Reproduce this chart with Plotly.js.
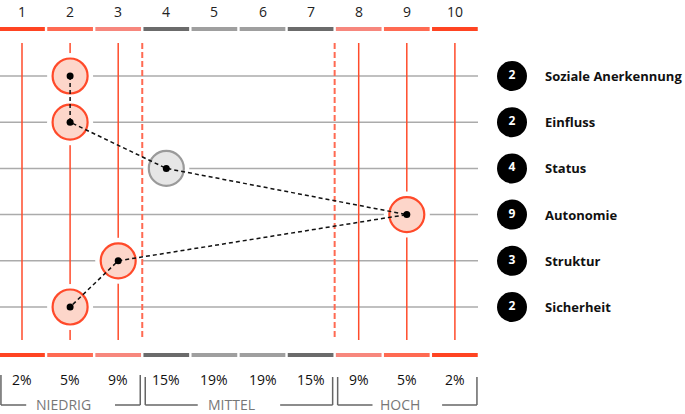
<!DOCTYPE html>
<html>
<head>
    <meta charset="utf-8">
    <script src="https://cdn.plot.ly/plotly-3.0.1.min.js"></script>
    <style>
        body { margin: 0; background: #fff; }
        #chart { width: 685px; height: 414px; }
    </style>
</head>
<body>
    <div id="chart"></div>
    <script>
        // Daten
        var kriterien = ['Soziale Anerkennung', 'Einfluss', 'Status', 'Autonomie', 'Struktur', 'Sicherheit'];
        var werte = [2, 2, 4, 9, 3, 2];
        var stufen = [1, 2, 3, 4, 5, 6, 7, 8, 9, 10];
        var anteile = ['2%', '5%', '9%', '15%', '19%', '19%', '15%', '9%', '5%', '2%'];
        var gruppen = ['NIEDRIG', 'MITTEL', 'HOCH'];
        var gruppeVon = [1, 4, 8];
        var gruppeBis = [3, 7, 10];

        // Farben
        var bandFarben = ['#ff4422', '#ff6a52', '#f7877d', '#6b6b6b', '#9f9f9f',
                          '#9f9f9f', '#6b6b6b', '#f7877d', '#ff6a52', '#ff4422'];
        var rot = '#ff4b2b';
        var font = 'Open Sans, Noto Sans, sans-serif';

        // Pixel -> Achsenwerte (Plot ohne Rand, 685x414)
        var dx = 48.1, dy = 46.2;
        function X(px) { return 1 + (px - 22) / dx; }
        function Y(py) { return (py - 76) / dy; }

        var zeilen = kriterien.map(function (k, i) { return i; });
        function istMittel(v) { return v >= gruppeVon[1] && v <= gruppeBis[1]; }

        var shapes = [];
        var annotations = [];

        // graue Zeilenlinien
        zeilen.forEach(function (i) {
            shapes.push({type: 'line', layer: 'below', x0: X(0), x1: X(478), y0: i, y1: i,
                         line: {color: '#ababab', width: 1.5}});
        });

        // Stufen: Farbbänder oben/unten, rote Senkrechten, Beschriftung
        stufen.forEach(function (s, i) {
            if (!istMittel(s)) {
                shapes.push({type: 'line', layer: 'below', x0: s, x1: s, y0: Y(43), y1: Y(340),
                             line: {color: rot, width: 1.5}});
            }
            [Y(29), Y(355)].forEach(function (yy) {
                shapes.push({type: 'line', x0: s - 0.5 + 0.025, x1: s + 0.5 - 0.025, y0: yy, y1: yy,
                             line: {color: bandFarben[i], width: 4}});
            });
            annotations.push({x: s, y: Y(11), text: String(s), showarrow: false,
                              font: {family: font, size: 14, color: '#222'}});
            annotations.push({x: s, y: Y(379), text: anteile[i], showarrow: false,
                              font: {family: font, size: 14, color: '#111'}});
        });

        // gestrichelte Gruppengrenzen
        [gruppeBis[0] + 0.5, gruppeBis[1] + 0.5].forEach(function (gx) {
            shapes.push({type: 'line', layer: 'below', x0: gx, x1: gx, y0: Y(43), y1: Y(340),
                         line: {color: '#ff6a52', width: 2, dash: '6px,3px'}});
        });

        // Klammern unten
        var kl = {color: '#666', width: 1.5};
        gruppen.forEach(function (g, i) {
            var a = gruppeVon[i] - 0.5 + 3 / dx;
            var b = gruppeBis[i] + 0.5 - 2 / dx;
            var mitte = (a + b) / 2;
            var luecke = (3.2 * g.length + 22) / dx;
            var oben = Y(i === 0 ? 375 : 377), unten = Y(405);
            shapes.push({type: 'line', x0: a, x1: a, y0: oben, y1: unten, line: kl});
            shapes.push({type: 'line', x0: b, x1: b, y0: oben, y1: unten, line: kl});
            shapes.push({type: 'line', x0: a, x1: mitte - luecke, y0: unten, y1: unten, line: kl});
            shapes.push({type: 'line', x0: mitte + luecke, x1: b, y0: unten, y1: unten, line: kl});
            annotations.push({x: mitte - 7 / dx, y: Y(404), text: g, showarrow: false,
                              font: {family: font, size: 14, color: '#777'}});
        });

        // Legende rechts: Beschriftungen
        kriterien.forEach(function (k, i) {
            annotations.push({x: X(543), y: i, text: '<b>' + k + '</b>', showarrow: false, xanchor: 'left',
                              font: {family: font, size: 13, color: '#111'}});
        });

        var fuellung = werte.map(function (v) { return istMittel(v) ? '#e6e6e6' : '#fdd6ca'; });
        var rand = werte.map(function (v) { return istMittel(v) ? '#9a9a9a' : '#ff4a2a'; });

        var data = [
            // weißer Hof um die Kreise
            {x: werte, y: zeilen, type: 'scatter', mode: 'markers', hoverinfo: 'skip',
             marker: {size: 46, color: '#fff', line: {width: 0}}},
            // Kreise
            {x: werte, y: zeilen, type: 'scatter', mode: 'markers', hoverinfo: 'skip',
             marker: {size: 35, color: fuellung, line: {color: rand, width: 2.2}}},
            // Verbindungslinie
            {x: werte, y: zeilen, type: 'scatter', mode: 'lines', hoverinfo: 'skip',
             line: {color: '#111', width: 1.5, dash: '4px,3px'}},
            // Mittelpunkte
            {x: werte, y: zeilen, type: 'scatter', mode: 'markers', hoverinfo: 'skip',
             marker: {size: 7, color: '#000'}},
            // Legende: schwarze Kreise mit Wert
            {x: zeilen.map(function () { return X(512); }), y: zeilen, type: 'scatter',
             mode: 'markers+text', hoverinfo: 'skip',
             text: werte.map(String), textposition: 'middle center',
             textfont: {family: font, size: 12, color: '#fff', weight: 'bold'},
             marker: {size: 30, color: '#000'}}
        ];

        var layout = {
            width: 685,
            height: 414,
            margin: {l: 0, r: 0, t: 0, b: 0, pad: 0},
            paper_bgcolor: '#fff',
            plot_bgcolor: '#fff',
            showlegend: false,
            hovermode: false,
            xaxis: {range: [X(0), X(685)], visible: false, fixedrange: true},
            yaxis: {range: [Y(414), Y(0)], visible: false, fixedrange: true},
            shapes: shapes,
            annotations: annotations
        };

        Plotly.newPlot('chart', data, layout, {displayModeBar: false, staticPlot: true});
    </script>
</body>
</html>
